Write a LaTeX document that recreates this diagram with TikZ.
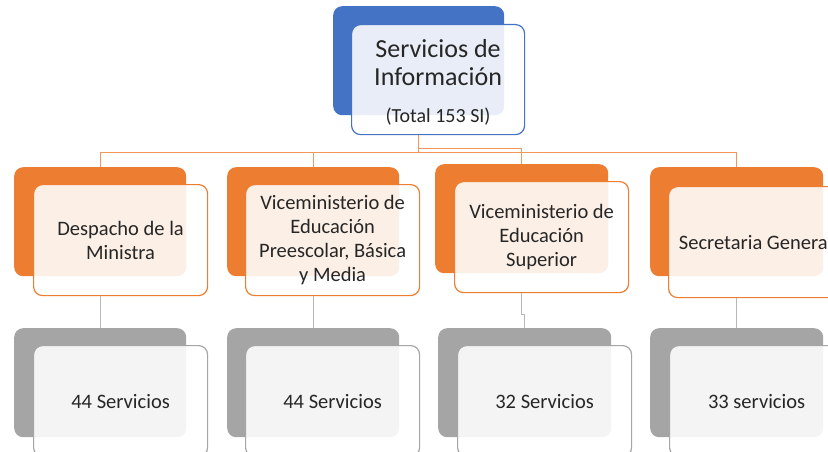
\documentclass[tikz,border=0pt]{standalone}
\usepackage{fontspec}
\setmainfont{Carlito}
\definecolor{obk}{HTML}{ED7D31}
\definecolor{bbk}{HTML}{4472C4}
\definecolor{gbk}{HTML}{A5A5A5}
\definecolor{txt}{HTML}{262626}
\begin{document}
\begin{tikzpicture}[x=1pt,y=-1pt,
  backbox/.style={rounded corners=9pt, minimum width=172pt, minimum height=109pt, inner sep=0pt, anchor=north west},
  frontbox/.style={rounded corners=9pt, minimum width=174pt, minimum height=111pt, inner sep=0pt, anchor=north west,
    fill=white, fill opacity=0.88, text opacity=1, line width=1.2pt, align=center, text=txt,
    font=\fontsize{20.5}{24}\selectfont},
  oline/.style={draw=obk!80, line width=1.4pt},
  gline/.style={draw=gbk!80, line width=1.3pt}]
\useasboundingbox (0,0) rectangle (828,452);
\clip (0,0) rectangle (828,452);
% top
\node[backbox, fill=bbk, minimum width=171pt] (topback) at (333,6) {};
\node[frontbox, draw=bbk, minimum width=173pt, minimum height=110pt, font=\fontsize{26}{28}\selectfont] (top) at (351,24)
  {\rule{0pt}{24pt}Servicios de\\Información\\[9pt]{\fontsize{20}{24}\selectfont (Total 153 SI)}};
% orange row
\node[backbox, fill=obk] (b1back) at (14,167) {};
\node[frontbox, draw=obk] (b1) at (33,184) {Despacho de la\\Ministra};
\node[backbox, fill=obk] (b2back) at (227,167) {};
\node[frontbox, draw=obk] (b2) at (245,184) {Viceministerio de\\Educación\\Preescolar, Básica\\y Media};
\node[backbox, fill=obk, minimum width=173pt] (b3back) at (435,164) {};
\node[frontbox, draw=obk] (b3) at (454,181) {Viceministerio de\\Educación\\Superior};
\node[backbox, fill=obk, minimum width=173pt] (b4back) at (650,167) {};
\node[frontbox, draw=obk] (b4) at (668,186) {Secretaria General};
% gray row
\node[backbox, fill=gbk] (g1back) at (14,328) {};
\node[frontbox, draw=gbk] (g1) at (33,345) {44 Servicios};
\node[backbox, fill=gbk] (g2back) at (227,328) {};
\node[frontbox, draw=gbk] (g2) at (245,345) {44 Servicios};
\node[backbox, fill=gbk, minimum width=173pt] (g3back) at (438,328) {};
\node[frontbox, draw=gbk] (g3) at (457,345) {32 Servicios};
\node[backbox, fill=gbk, minimum width=173pt] (g4back) at (650,328) {};
\node[frontbox, draw=gbk] (g4) at (669,345) {33 servicios};
% orange connectors
\draw[oline] (topback.south |- top.south) -- ++(0,17) -| (b1back.north);
\draw[oline] (topback.south |- top.south) -- ++(0,17) -| (b2back.north);
\draw[oline] (topback.south |- top.south) -- ++(0,13) -| (b3back.north);
\draw[oline] (topback.south |- top.south) -- ++(0,17) -| (b4back.north);
% gray connectors
\draw[gline] (b1back.south |- b1.south) -- (g1back.north);
\draw[gline] (b2back.south |- b2.south) -- (g2back.north);
\draw[gline] (b3back.south |- b3.south) -- ++(0,21) -| (g3back.north);
\draw[gline] (b4back.south |- b4.south) -- (g4back.north);
\end{tikzpicture}
\end{document}
